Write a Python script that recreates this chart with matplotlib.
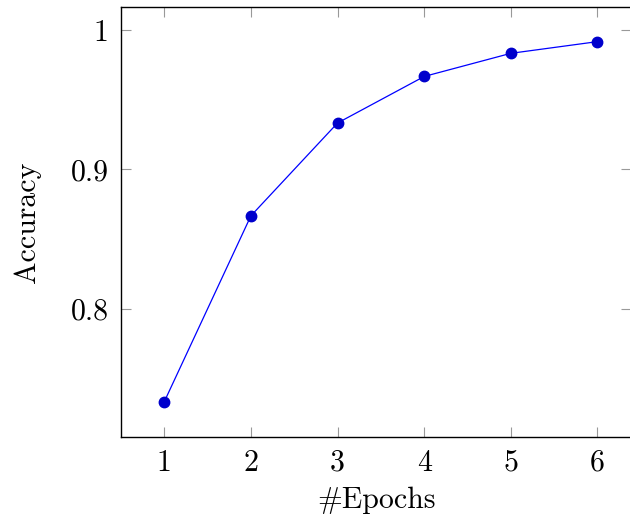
import numpy as np
import matplotlib.pyplot as plt
import matplotlib as mpl

# pgfplots-like house style
mpl.rcParams['font.family'] = 'serif'
mpl.rcParams['font.serif'] = ['cmr10']
mpl.rcParams['mathtext.fontset'] = 'cm'
mpl.rcParams['axes.formatter.use_mathtext'] = True
mpl.rcParams['axes.unicode_minus'] = False

epochs = [1, 2, 3, 4, 5, 6]
accuracy = [0.7333, 0.8667, 0.9333, 0.9667, 0.9833, 0.9917]

fig = plt.figure(figsize=(6.3, 5.23), dpi=100)
ax = fig.add_axes([0.192, 0.1645, 0.81, 0.822])

ax.plot(epochs, accuracy, color='#0000ff', lw=0.9, marker='o', ms=7.5,
        markerfacecolor='#0000cc', markeredgecolor='#0000cc')

ax.set_xlim(0.5, 6.39)
ax.set_ylim(0.708, 1.0165)
ax.set_xticks(epochs)
ax.set_xticklabels([str(e) for e in epochs])
ax.set_yticks([0.8, 0.9, 1.0])
ax.set_yticklabels(['0.8', '0.9', '1'])

ax.tick_params(direction='in', top=True, right=True, length=7, width=0.8,
               color='#999999', labelsize=21.5, pad=9)
for s in ax.spines.values():
    s.set_linewidth(1.0)

ax.set_xlabel('#Epochs', fontsize=21.5, labelpad=7)
ax.set_ylabel('Accuracy', fontsize=21.5, labelpad=21)

fig.savefig('out.png', dpi=100)
